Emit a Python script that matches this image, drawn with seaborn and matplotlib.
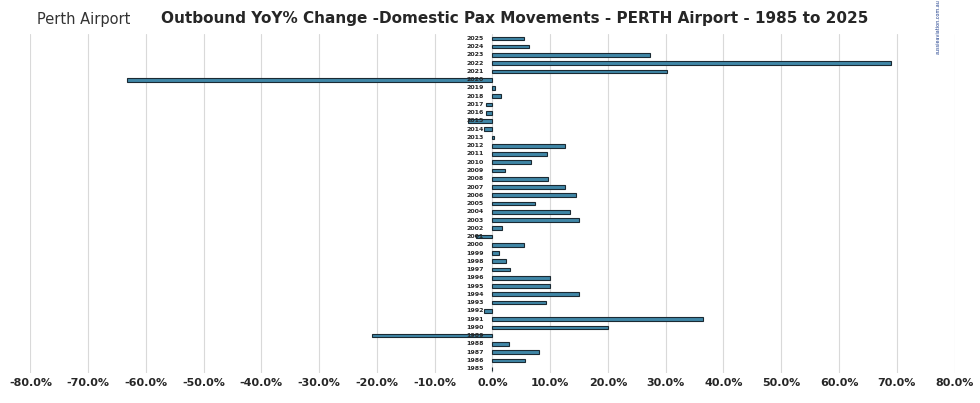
import numpy as np
import pandas as pd
import seaborn as sns
import matplotlib.pyplot as plt
from matplotlib.ticker import FuncFormatter

# Data (YoY % change, outbound domestic pax, Perth)
years = list(range(1985, 2026))
yoy = [0.0, 5.7, 8.0, 2.8, -20.8, 20.0, 36.5, -1.4, 9.3, 15.0,
       10.0, 10.0, 3.1, 2.4, 1.2, 5.5, -2.8, 1.6, 14.9, 13.5,
       7.3, 14.5, 12.5, 9.7, 2.1, 6.7, 9.5, 12.5, 0.2, -1.4,
       -4.2, -1.2, -1.2, 1.4, 0.5, -63.2, 30.3, 69.0, 27.3, 6.4, 5.5]

df = pd.DataFrame({"year": [str(y) for y in years], "yoy": yoy})
df = df.iloc[::-1].reset_index(drop=True)  # 2025 at top

sns.set_style("white")
plt.rcParams['font.family'] = ['DejaVu Sans']

fig, ax = plt.subplots(figsize=(9.8, 4.03), dpi=100)
fig.subplots_adjust(left=0.031, right=0.974, top=0.915, bottom=0.075)

sns.barplot(data=df, x="yoy", y="year", orient="h", color="#2F8DB8",
            edgecolor="#1b2a33", linewidth=0.8, width=0.45, ax=ax)

ax.set_xlim(-80, 80)
ax.set_xticks(np.arange(-80, 81, 10))
ax.xaxis.set_major_formatter(FuncFormatter(lambda v, p: f"{v:.1f}%"))
ax.tick_params(axis="x", labelsize=8, length=0)
for t in ax.get_xticklabels():
    t.set_fontweight("bold")
ax.set_yticks([])
ax.set_xlabel("")
ax.set_ylabel("")
ax.grid(axis="x", color="#d9d9d9", linewidth=0.8)
ax.set_axisbelow(True)
for s in ax.spines.values():
    s.set_visible(False)

# year labels at the zero line
for i, y in enumerate(df["year"]):
    ax.text(-1.5, i, y, ha="right", va="center", fontsize=4.5, fontweight="bold")

fig.text(0.525, 0.955, "Outbound YoY% Change -Domestic Pax Movements - PERTH Airport - 1985 to 2025",
         ha="center", va="center", fontsize=11, fontweight="bold")
fig.text(0.038, 0.952, "Perth Airport", ha="left", va="center", fontsize=10.5, color="#333333")
fig.text(0.955, 0.935, "aussieaviation.com.au", ha="left", va="center", fontsize=3.5,
         color="#1a3a8a", rotation=90)

fig.savefig("out.png", dpi=100)
